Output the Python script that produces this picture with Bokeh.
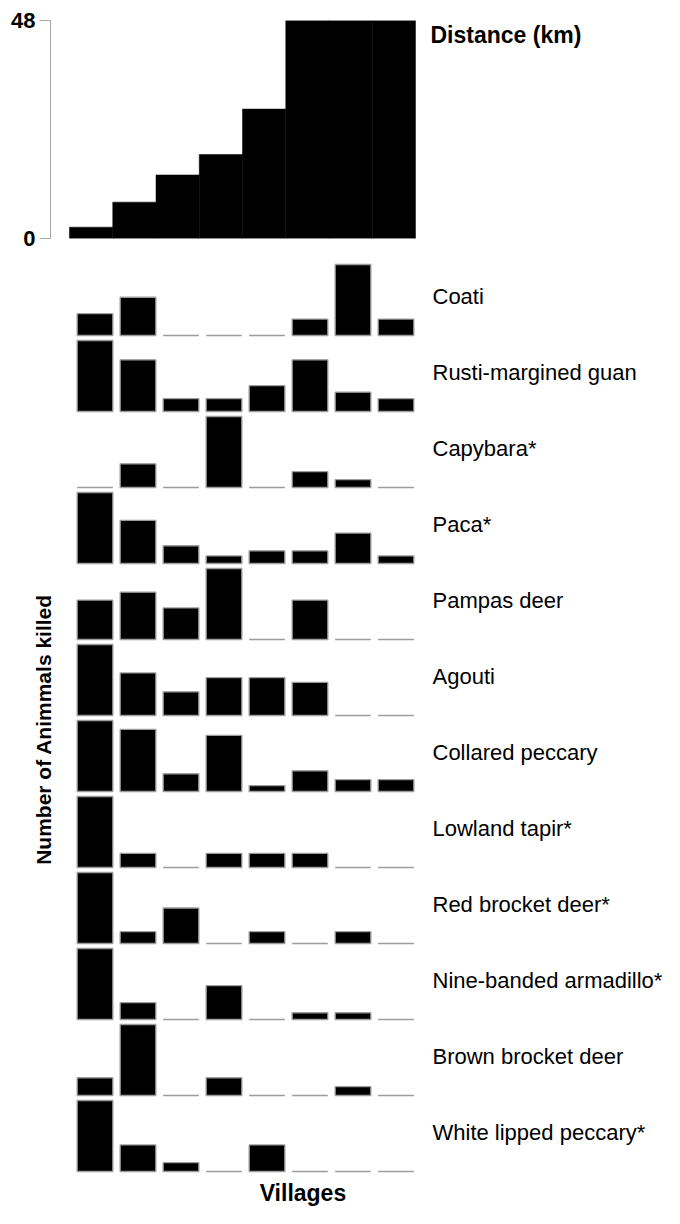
import numpy as np
from bokeh.plotting import figure
from bokeh.layouts import column, row
from bokeh.models import Range1d, FixedTicker
from bokeh.core.properties import value
from bokeh.embed import file_html
from bokeh.resources import INLINE

# ---------------- data ----------------
villages = ["1", "2", "3", "4", "5", "6", "7", "8"]
distance_km = [2.5, 8, 14, 18.5, 28.5, 48, 48, 48]
distance_ticks = [0, 48]

species = ["Coati", "Rusti-margined guan", "Capybara*", "Paca*", "Pampas deer",
           "Agouti", "Collared peccary", "Lowland tapir*", "Red brocket deer*",
           "Nine-banded armadillo*", "Brown brocket deer", "White lipped peccary*"]
coati = [4, 7, 0, 0, 0, 3, 13, 3]
rusti_margined_guan = [11, 8, 2, 2, 4, 8, 3, 2]
capybara = [0, 3, 0, 9, 0, 2, 1, 0]
paca = [28, 17, 7, 3, 5, 5, 12, 3]
pampas_deer = [5, 6, 4, 9, 0, 5, 0, 0]
agouti = [15, 9, 5, 8, 8, 7, 0, 0]
collared_peccary = [24, 21, 6, 19, 2, 7, 4, 4]
lowland_tapir = [5, 1, 0, 1, 1, 1, 0, 0]
red_brocket_deer = [6, 1, 3, 0, 1, 0, 1, 0]
nine_banded_armadillo = [21, 5, 0, 10, 0, 2, 2, 0]
brown_brocket_deer = [2, 8, 0, 2, 0, 0, 1, 0]
white_lipped_peccary = [8, 3, 1, 0, 3, 0, 0, 0]
kills = [coati, rusti_margined_guan, capybara, paca, pampas_deer, agouti,
         collared_peccary, lowland_tapir, red_brocket_deer,
         nine_banded_armadillo, brown_brocket_deer, white_lipped_peccary]

y_title = "Number of Animmals killed"
x_title = "Villages"
top_title = "Distance (km)"

# ---------------- styling / layout ----------------
FONT = value("Liberation Sans")
W = 664
TOP_H, TOP_FRAME_H, TOP_BORDER_TOP = 261, 218, 20
TOP_LEFT = 50
TOP_UNIT = 43.25
TOP_OFFSET = 19
PANEL_H = 76
BAR_MAX_PX = 71
BASE_PX = 2
LEFT_W = 58
SP_LEFT = 15
SP_UNIT = 43
LABEL_PX_X = 359.0
LABEL_PX_UP = 39
BOTTOM_H = 35

idx = np.arange(len(villages))

# ---------------- top panel: distance ----------------
top_frame_w = W - TOP_LEFT
x0 = -TOP_OFFSET / TOP_UNIT
p = figure(width=W, height=TOP_H,
           x_range=Range1d(x0, x0 + top_frame_w / TOP_UNIT),
           y_range=Range1d(0, 48),
           x_axis_type=None,
           min_border_left=TOP_LEFT, min_border_right=0,
           min_border_top=TOP_BORDER_TOP,
           min_border_bottom=TOP_H - TOP_BORDER_TOP - TOP_FRAME_H,
           output_backend="svg", toolbar_location=None)
p.vbar(x=idx + 0.5, width=1.0, top=distance_km, bottom=0,
       fill_color="black", line_color="black", line_width=0.5)
p.yaxis.ticker = FixedTicker(ticks=distance_ticks)
p.yaxis.major_label_text_font = "Liberation Sans"
p.yaxis.major_label_text_font_style = "bold"
p.yaxis.major_label_text_font_size = "22px"
p.yaxis.major_label_text_color = "black"
p.yaxis.axis_line_color = "#a8a8a8"
p.yaxis.major_tick_line_color = "#a8a8a8"
p.yaxis.major_tick_out = 11
p.yaxis.major_tick_in = 0
p.yaxis.minor_tick_line_color = None
p.yaxis.major_label_standoff = 4
p.grid.visible = False
p.outline_line_color = None
p.text(x=[(430 - 69) / TOP_UNIT], y=[48 - (34.2 - 20) * 48 / TOP_FRAME_H],
       text=[top_title], text_font=FONT, text_font_style="bold",
       text_font_size="23px", text_align="left", text_baseline="middle",
       text_color="black")

# ---------------- species panels ----------------
panels = []
sp_w = W - LEFT_W
sp_frame_w = sp_w - SP_LEFT
for name, vals in zip(species, kills):
    m = max(vals)
    ppu = BAR_MAX_PX / m
    start = -BASE_PX / ppu
    f = figure(width=sp_w, height=PANEL_H,
               x_range=Range1d(0, sp_frame_w / SP_UNIT),
               y_range=Range1d(start, start + PANEL_H / ppu),
               x_axis_type=None, y_axis_type=None,
               min_border_left=SP_LEFT, min_border_right=0,
               min_border_top=0, min_border_bottom=0,
               output_backend="svg", toolbar_location=None)
    f.vbar(x=idx + 0.5, width=0.83, top=vals, bottom=0,
           fill_color="black", line_color="#9c9c9c", line_width=1.3)
    f.text(x=[LABEL_PX_X / SP_UNIT], y=[LABEL_PX_UP / ppu], text=[name],
           text_font=FONT, text_font_size="22px", text_align="left",
           text_baseline="middle", text_color="black")
    f.grid.visible = False
    f.outline_line_color = None
    panels.append(f)

# ---------------- y title ----------------
mid_h = PANEL_H * len(species)
lf = figure(width=LEFT_W, height=mid_h, x_range=Range1d(0, LEFT_W),
            y_range=Range1d(0, mid_h), x_axis_type=None, y_axis_type=None,
            min_border=0, output_backend="svg", toolbar_location=None)
lf.text(x=[43], y=[mid_h - 468], text=[y_title], angle=np.pi / 2,
        text_font=FONT, text_font_style="bold", text_font_size="21px",
        text_align="center", text_baseline="middle", text_color="black")
lf.grid.visible = False
lf.outline_line_color = None

# ---------------- x title ----------------
bf = figure(width=W, height=BOTTOM_H, x_range=Range1d(0, W),
            y_range=Range1d(0, BOTTOM_H), x_axis_type=None, y_axis_type=None,
            min_border=0, output_backend="svg", toolbar_location=None)
bf.text(x=[273], y=[16], text=[x_title], text_font=FONT,
        text_font_style="bold", text_font_size="23px", text_align="center",
        text_baseline="middle", text_color="black")
bf.grid.visible = False
bf.outline_line_color = None

layout = column(p, row(lf, column(*panels, spacing=0), spacing=0), bf, spacing=0)
open("out.html", "w").write(file_html(layout, INLINE))
